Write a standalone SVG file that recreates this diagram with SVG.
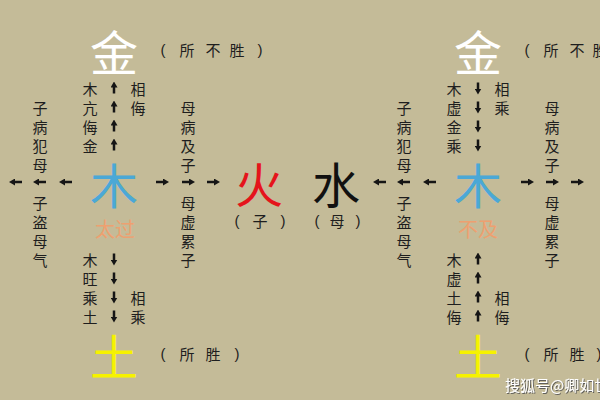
<svg xmlns="http://www.w3.org/2000/svg" width="600" height="400" viewBox="0 0 600 400">
<defs>
<style>
text{font-family:"Noto Sans CJK SC","Noto Sans",sans-serif;text-anchor:middle;dominant-baseline:central}
.s{font-size:15px;fill:#1e1e1e}
.p{font-family:"Liberation Sans","Noto Sans CJK SC",sans-serif;font-size:15px;fill:#1e1e1e}
.big{font-size:48px}
.jin{fill:#ffffff}
.mu{fill:#4ba8d6}
.tu{fill:#f6f200}
.huo{fill:#e5141b}
.shui{fill:#111111}
.st{font-size:20px;fill:#eea070}
.arr{stroke:#151515;stroke-width:2.5;fill:none;marker-end:url(#ah)}
.wm{font-size:15px;fill:#ffffff;text-anchor:start;filter:url(#sh)}
</style>
<marker id="ah" markerUnits="userSpaceOnUse" markerWidth="6" markerHeight="7" refX="2" refY="3.5" orient="auto">
<path d="M0,0 L6,3.5 L0,7 z" fill="#151515"/>
</marker>
<filter id="sh" x="-10%" y="-30%" width="120%" height="160%">
<feDropShadow dx="1" dy="1" stdDeviation="0.6" flood-color="#555555" flood-opacity="0.9"/>
</filter>
</defs>
<rect width="600" height="400" fill="#c4bb98"/>

<!-- connectors (arrows) -->
<g id="connectors">
<!-- left block up arrows -->
<path class="arr" d="M114,93.5 V85.5"/>
<path class="arr" d="M114,112.5 V104.5"/>
<path class="arr" d="M114,131.5 V123.5"/>
<path class="arr" d="M114,150.5 V142.5"/>
<!-- left block horizontal -->
<path class="arr" d="M22,182 H13"/>
<path class="arr" d="M46,182 H37"/>
<path class="arr" d="M72,182 H63"/>
<path class="arr" d="M156,182 H165"/>
<path class="arr" d="M182,182 H191"/>
<path class="arr" d="M207,182 H216"/>
<!-- left block down arrows -->
<path class="arr" d="M114,253.5 V261.5"/>
<path class="arr" d="M114,272.5 V280.5"/>
<path class="arr" d="M114,291.5 V299.5"/>
<path class="arr" d="M114,310.5 V318.5"/>
<!-- right block down arrows -->
<path class="arr" d="M478,82.5 V90.5"/>
<path class="arr" d="M478,101.5 V109.5"/>
<path class="arr" d="M478,120.5 V128.5"/>
<path class="arr" d="M478,139.5 V147.5"/>
<!-- right block horizontal -->
<path class="arr" d="M386,182 H377"/>
<path class="arr" d="M410,182 H401"/>
<path class="arr" d="M436,182 H427"/>
<path class="arr" d="M521,182 H530"/>
<path class="arr" d="M546,182 H555"/>
<path class="arr" d="M571,182 H580"/>
<!-- right block up arrows -->
<path class="arr" d="M478,264.5 V256.5"/>
<path class="arr" d="M478,283.5 V275.5"/>
<path class="arr" d="M478,302.5 V294.5"/>
<path class="arr" d="M478,321.5 V313.5"/>
</g>

<!-- LEFT BLOCK -->
<g id="jin-left">
<text class="big jin" x="114" y="50">金</text>
<text class="p" x="163" y="49">(</text><text class="s" x="187" y="49">所</text><text class="s" x="213" y="49">不</text><text class="s" x="237" y="49">胜</text><text class="p" x="260" y="49">)</text>
</g>
<g id="label-mu-kang-wu-jin">
<text class="s" x="90" y="88">木</text><text class="s" x="90" y="107">亢</text><text class="s" x="90" y="126">侮</text><text class="s" x="90" y="145">金</text>
<text class="s" x="138" y="88">相</text><text class="s" x="138" y="107">侮</text>
</g>
<g id="label-zi-bing-fan-mu-left">
<text class="s" x="40" y="107">子</text><text class="s" x="40" y="126">病</text><text class="s" x="40" y="145">犯</text><text class="s" x="40" y="164">母</text>
</g>
<g id="label-mu-bing-ji-zi-left">
<text class="s" x="188" y="107">母</text><text class="s" x="188" y="126">病</text><text class="s" x="188" y="145">及</text><text class="s" x="188" y="164">子</text>
</g>
<g id="mu-left">
<text class="big mu" x="114" y="183">木</text>
<text class="st" x="115" y="228">太过</text>
</g>
<g id="label-zi-dao-mu-qi-left">
<text class="s" x="40" y="202">子</text><text class="s" x="40" y="221">盗</text><text class="s" x="40" y="240">母</text><text class="s" x="40" y="259">气</text>
</g>
<g id="label-mu-xu-lei-zi-left">
<text class="s" x="188" y="202">母</text><text class="s" x="188" y="221">虚</text><text class="s" x="188" y="240">累</text><text class="s" x="188" y="259">子</text>
</g>
<g id="label-mu-wang-cheng-tu">
<text class="s" x="90" y="259">木</text><text class="s" x="90" y="278">旺</text><text class="s" x="90" y="297">乘</text><text class="s" x="90" y="316">土</text>
<text class="s" x="138" y="297">相</text><text class="s" x="138" y="316">乘</text>
</g>
<g id="tu-left">
<text class="big tu" x="114" y="354">土</text>
<text class="p" x="163" y="353">(</text><text class="s" x="187" y="353">所</text><text class="s" x="213" y="353">胜</text><text class="p" x="237" y="353">)</text>
</g>

<!-- MIDDLE -->
<g id="huo">
<text class="big huo" x="259" y="182">火</text>
<text class="p" x="237" y="220">(</text><text class="s" x="260" y="220">子</text><text class="p" x="283" y="220">)</text>
</g>
<g id="shui">
<text class="big shui" x="336" y="182">水</text>
<text class="p" x="317" y="220">(</text><text class="s" x="337" y="220">母</text><text class="p" x="358" y="220">)</text>
</g>

<!-- RIGHT BLOCK -->
<g id="jin-right">
<text class="big jin" x="478" y="50">金</text>
<text class="p" x="527" y="49">(</text><text class="s" x="551" y="49">所</text><text class="s" x="577" y="49">不</text><text class="s" x="600" y="49">胜</text>
</g>
<g id="label-mu-xu-jin-cheng">
<text class="s" x="454" y="88">木</text><text class="s" x="454" y="107">虚</text><text class="s" x="454" y="126">金</text><text class="s" x="454" y="145">乘</text>
<text class="s" x="502" y="88">相</text><text class="s" x="502" y="107">乘</text>
</g>
<g id="label-zi-bing-fan-mu-right">
<text class="s" x="404" y="107">子</text><text class="s" x="404" y="126">病</text><text class="s" x="404" y="145">犯</text><text class="s" x="404" y="164">母</text>
</g>
<g id="label-mu-bing-ji-zi-right">
<text class="s" x="552" y="107">母</text><text class="s" x="552" y="126">病</text><text class="s" x="552" y="145">及</text><text class="s" x="552" y="164">子</text>
</g>
<g id="mu-right">
<text class="big mu" x="478" y="183">木</text>
<text class="st" x="478" y="228">不及</text>
</g>
<g id="label-zi-dao-mu-qi-right">
<text class="s" x="404" y="202">子</text><text class="s" x="404" y="221">盗</text><text class="s" x="404" y="240">母</text><text class="s" x="404" y="259">气</text>
</g>
<g id="label-mu-xu-lei-zi-right">
<text class="s" x="552" y="202">母</text><text class="s" x="552" y="221">虚</text><text class="s" x="552" y="240">累</text><text class="s" x="552" y="259">子</text>
</g>
<g id="label-mu-xu-tu-wu">
<text class="s" x="454" y="259">木</text><text class="s" x="454" y="278">虚</text><text class="s" x="454" y="297">土</text><text class="s" x="454" y="316">侮</text>
<text class="s" x="502" y="297">相</text><text class="s" x="502" y="316">侮</text>
</g>
<g id="tu-right">
<text class="big tu" x="478" y="354">土</text>
<text class="p" x="527" y="353">(</text><text class="s" x="551" y="353">所</text><text class="s" x="577" y="353">胜</text><text class="p" x="599" y="353">)</text>
</g>

<g id="watermark">
<text class="wm" x="505" y="384">搜狐号@卿如世</text>
</g>
</svg>
